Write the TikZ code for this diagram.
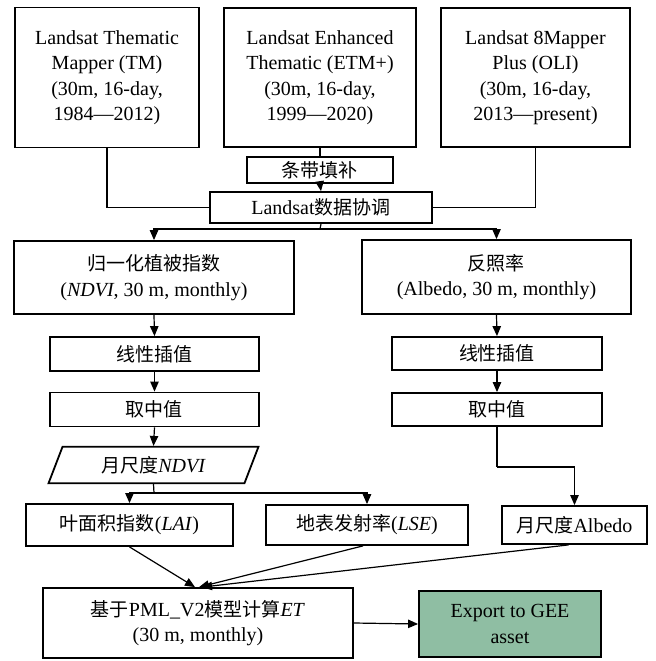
\documentclass[tikz,border=0pt]{standalone}
\usepackage{fontspec}
\setmainfont{Liberation Serif}
\newfontfamily\cjk{Noto Sans CJK SC}[Scale=0.95]
\newcommand{\zh}[1]{{\cjk #1}}
\usetikzlibrary{shapes.geometric, arrows.meta}
\definecolor{exportgreen}{RGB}{143,190,163}

\begin{document}
\begin{tikzpicture}[x=0.5pt, y=-0.5pt, >={Triangle[length=5pt,width=4.2pt]},
    box/.style={draw, line width=0.9pt, align=center, inner sep=1pt,
        font=\fontsize{10}{12.75}\selectfont},
    link/.style={line width=0.6pt}]
    \useasboundingbox (0,0) rectangle (656,661);

    % Landsat sensors
    \node[box, minimum width=92pt, minimum height=70pt] (tm) at (107,77.5)
        {Landsat Thematic\\Mapper (TM)\\(30m, 16-day,\\1984---2012)};
    \node[box, minimum width=96pt, minimum height=69.5pt] (etm) at (320,77.5)
        {Landsat Enhanced\\Thematic (ETM+)\\(30m, 16-day,\\1999---2020)};
    \node[box, minimum width=94.5pt, minimum height=69.5pt] (oli) at (535.5,77.5)
        {Landsat 8Mapper\\Plus (OLI)\\(30m, 16-day,\\2013---present)};

    % Preprocessing
    \node[box, minimum width=73pt, minimum height=13pt] (gapfill) at (320,170) {\zh{条带填补}};
    \node[box, minimum width=111pt, minimum height=15.5pt] (harm) at (321,207.5) {Landsat\zh{数据协调}};
    \coordinate (hsplit) at (320,229);

    % NDVI branch
    \node[box, minimum width=140pt, minimum height=36.5pt] (ndvi) at (154,277.5)
        {\zh{归一化植被指数}\\(\textit{NDVI}, 30 m, monthly)};
    \node[box, minimum width=104.5pt, minimum height=17pt] (interpA) at (154.5,354) {\zh{线性插值}};
    \node[box, minimum width=104.5pt, minimum height=17pt] (medA) at (154.5,409.5) {\zh{取中值}};
    \node[box, trapezium, trapezium left angle=69, trapezium right angle=111,
        minimum width=105pt, minimum height=18pt] (mndvi) at (153.5,465) {\zh{月尺度}\textit{NDVI}};
    \coordinate (nsplit) at (154,493);

    % Albedo branch
    \node[box, minimum width=134.5pt, minimum height=37pt] (albedo) at (496.5,277)
        {\zh{反照率}\\(Albedo, 30 m, monthly)};
    \node[box, minimum width=105pt, minimum height=16.5pt] (interpB) at (497,353.5) {\zh{线性插值}};
    \node[box, minimum width=105pt, minimum height=16.5pt] (medB) at (497,409.5) {\zh{取中值}};
    \coordinate (abend) at (497,467);

    % Model inputs
    \node[box, minimum width=103.5pt, minimum height=21pt] (lai) at (129.5,525) {\zh{叶面积指数}(\textit{LAI})};
    \node[box, minimum width=101pt, minimum height=20pt] (lse) at (367,525) {\zh{地表发射率}(\textit{LSE})};
    \node[box, minimum width=72.5pt, minimum height=19pt] (malb) at (574.5,525) {\zh{月尺度}Albedo};

    % Model and export
    \node[box, minimum width=155pt, minimum height=35pt] (et) at (198,623)
        {\zh{基于}PML\_V2\zh{模型计算}\textit{ET}\\(30 m, monthly)};
    \node[box, fill=exportgreen, minimum width=91pt, minimum height=33pt] (gee) at (510,624)
        {Export to GEE\\asset};

    % Connectors
    \draw[link] (tm.south) |- (harm.west);
    \draw[link] (oli.south) |- (harm.east);
    \draw[link] (etm.south) -- (gapfill.north);
    \draw[link, ->] (gapfill.south) -- (harm.north);
    \draw[link] (harm.south) -- (hsplit);
    \draw[link, ->] (hsplit) -| (ndvi.north);
    \draw[link, ->] (hsplit) -| (albedo.north);

    \draw[link, ->] (ndvi.south) -- (interpA.north);
    \draw[link, ->] (interpA.south) -- (medA.north);
    \draw[link, ->] (medA.south) -- (mndvi.north);
    \draw[link] (mndvi.south) -- (nsplit);
    \draw[link, ->] (nsplit) -| (lai.north);
    \draw[link, ->] (nsplit) -| (lse.north);

    \draw[link, ->] (albedo.south) -- (interpB.north);
    \draw[link, ->] (interpB.south) -- (medB.north);
    \draw[link] (medB.south) -- (abend);
    \draw[link, ->] (abend) -| (malb.north);

    \draw[link, ->] (lai.south) -- ([xshift=-1.5pt]et.north);
    \draw[link, ->] ([xshift=-2pt]lse.south) -- ([xshift=0.5pt]et.north);
    \draw[link, ->] ([xshift=-3pt]malb.south) -- ([xshift=2pt]et.north);
    \draw[link, ->] (et.east) -- (gee.west);
\end{tikzpicture}
\end{document}
